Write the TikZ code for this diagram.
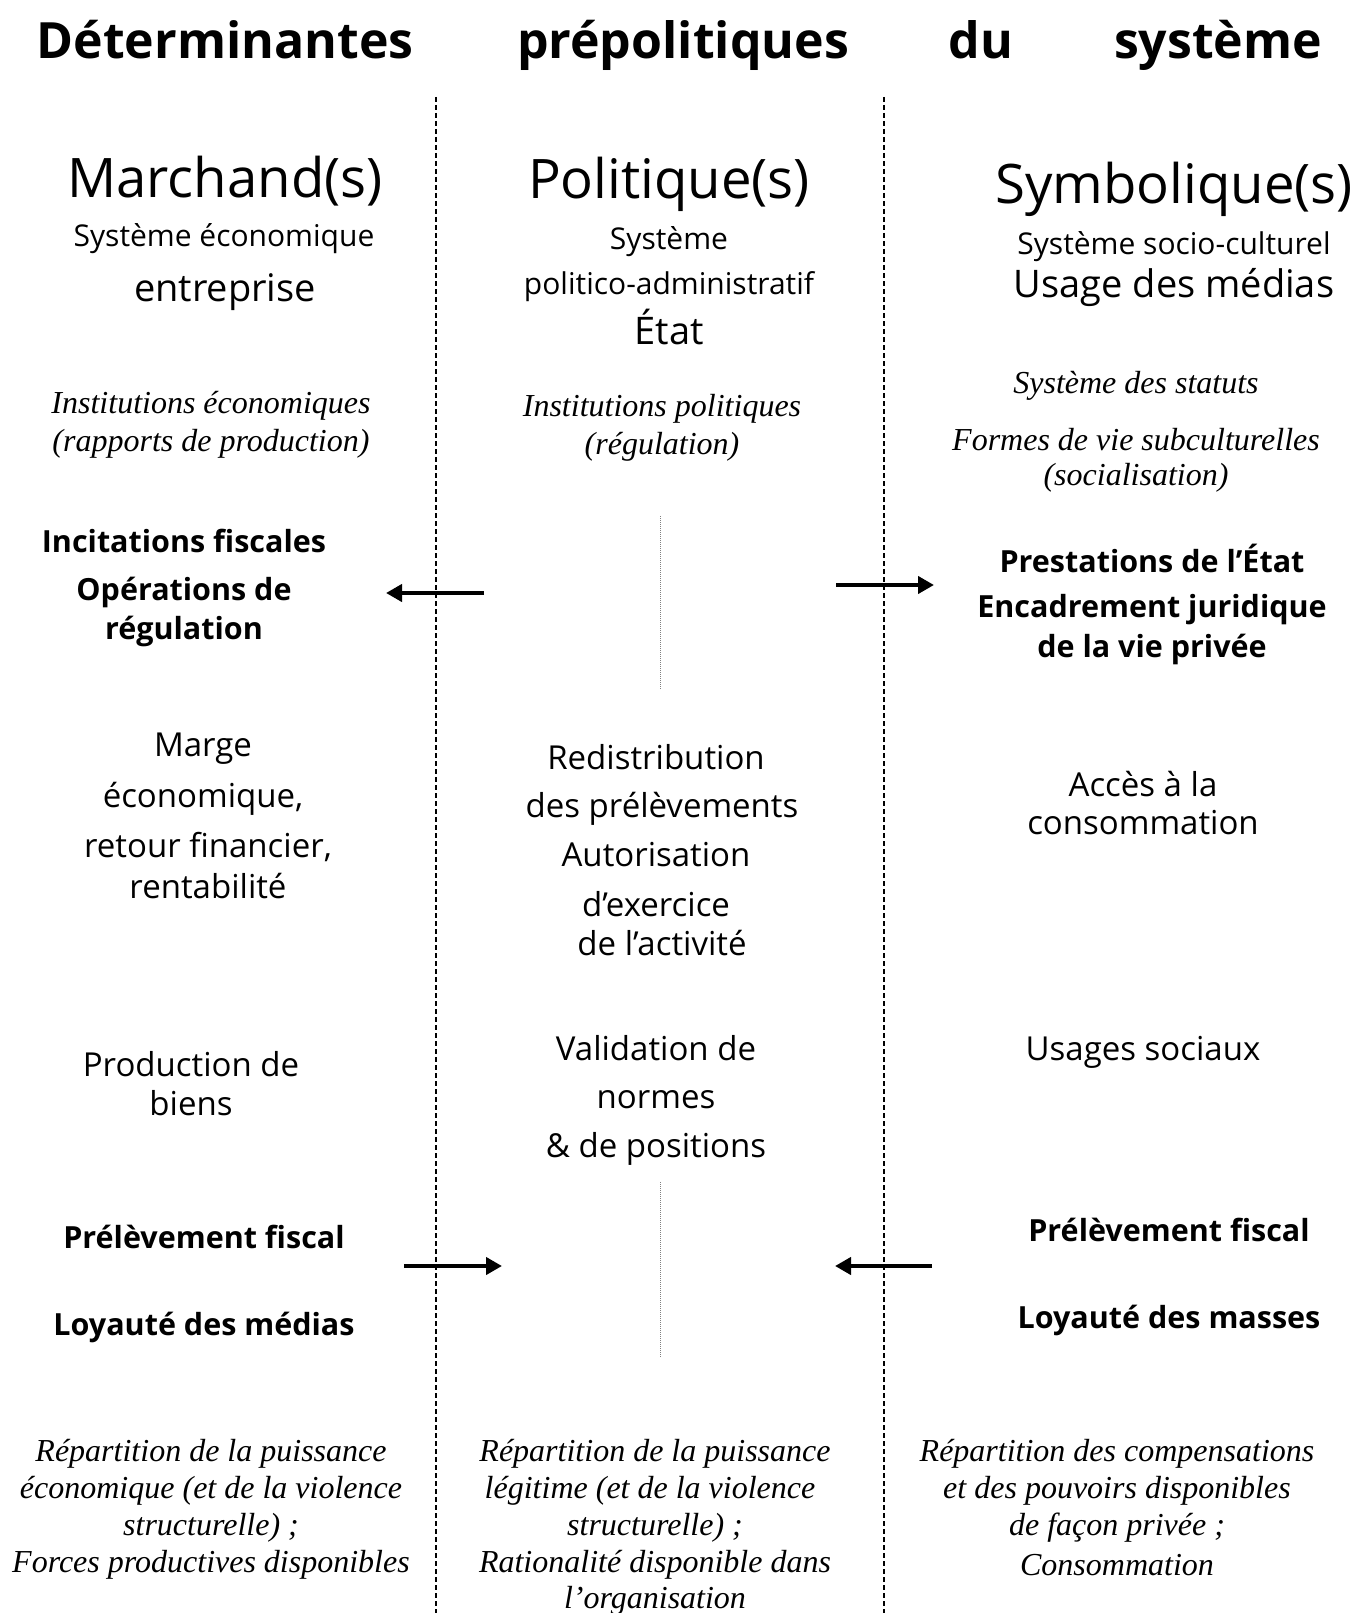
\documentclass[tikz,border=0pt]{standalone}
\usepackage{fontspec}
\setmainfont{Open Sans}
\newfontfamily\serit{Liberation Serif}
\usetikzlibrary{arrows.meta}
\begin{document}
\begin{tikzpicture}[x=1pt,y=-1pt,
  title/.style={font=\fontsize{50}{60}\selectfont\bfseries, anchor=base},
  head/.style={font=\fontsize{54.5}{62}\selectfont},
  sub/.style={font=\fontsize{30}{34}\selectfont},
  big/.style={font=\fontsize{38}{42}\selectfont},
  bld/.style={font=\fontsize{30.5}{36}\selectfont\bfseries},
  reg/.style={font=\fontsize{33}{38}\selectfont},
  ital/.style={font=\serit\itshape\fontsize{32}{36}\selectfont},
  sep/.style={line width=1.2pt, dash pattern=on 5pt off 3pt},
  mid/.style={line width=0.8pt, gray, dash pattern=on 1pt off 1pt},
  arr/.style={line width=4.6pt, -{Triangle[length=16pt,width=17pt]}},
  inner sep=0pt]
\useasboundingbox (0,0) rectangle (1358,1613);
\fill[white] (0,0) rectangle (1358,1613);
% title
\node[title] (t1) at (225,59) {Déterminantes};
\node[title] (t2) at (683,59) {prépolitiques};
\node[title] (t3) at (981,59) {du};
\node[title] (t4) at (1218,59) {système};
% separators
\coordinate (s1a) at (436,97); \coordinate (s1b) at (436,1613);
\coordinate (s2a) at (884,97); \coordinate (s2b) at (884,1613);
\draw[sep] (s1a) -- (s1b);
\draw[sep] (s2a) -- (s2b);
\coordinate (m1a) at (660,516); \coordinate (m1b) at (660,690);
\coordinate (m2a) at (660,1182); \coordinate (m2b) at (660,1358);
\draw[mid] (m1a) -- (m1b);
\draw[mid] (m2a) -- (m2b);
% arrows
\coordinate (a1s) at (484,593); \coordinate (a1e) at (386,593);
\coordinate (a2s) at (836,585); \coordinate (a2e) at (934,585);
\coordinate (a3s) at (404,1266); \coordinate (a3e) at (502,1266);
\coordinate (a4s) at (932,1266); \coordinate (a4e) at (835,1266);
\draw[arr] (a1s) -- (a1e);
\draw[arr] (a2s) -- (a2e);
\draw[arr] (a3s) -- (a3e);
\draw[arr] (a4s) -- (a4e);
% left column
\node[head] (L1) at (225,181) {Marchand(s)};
\node[sub] (L2) at (224,239) {Système économique};
\node[big] (L3) at (225,292) {entreprise};
\node[ital] (L4) at (211,406) {Institutions économiques};
\node[ital] (L5) at (211,444) {(rapports de production)};
\node[bld] (L6) at (184,541) {Incitations fiscales};
\node[bld] (L7) at (184,592) {Opérations de};
\node[bld] (L8) at (184,631) {régulation};
\node[reg] (L9) at (203,749) {Marge};
\node[reg] (L10) at (203,799) {économique,};
\node[reg] (L11) at (208,847) {retour financier,};
\node[reg] (L12) at (208,886) {rentabilité};
\node[reg] (L13) at (191,1064) {Production de};
\node[reg] (L14) at (191,1103) {biens};
\node[bld] (L15) at (204,1237) {Prélèvement fiscal};
\node[bld] (L16) at (204,1327) {Loyauté des médias};
\node[ital] (L17) at (211,1454) {Répartition de la puissance};
\node[ital] (L18) at (211,1491) {économique (et de la violence};
\node[ital] (L19) at (211,1528) {structurelle) ;};
\node[ital] (L20) at (211,1565) {Forces productives disponibles};
% middle column
\node[head] (M1) at (669,184) {Politique(s)};
\node[sub] (M2) at (669,242) {Système};
\node[sub] (M3) at (669,287) {politico-administratif};
\node[big] (M4) at (669,327) {État};
\node[ital] (M5) at (662,409) {Institutions politiques};
\node[ital] (M6) at (662,447) {(régulation)};
\node[reg] (M7) at (656,757) {Redistribution};
\node[reg] (M8) at (662,809) {des prélèvements};
\node[reg] (M9) at (656,855) {Autorisation};
\node[reg] (M10) at (656,904) {d’exercice};
\node[reg] (M11) at (662,943) {de l’activité};
\node[reg] (M12) at (656,1048) {Validation de};
\node[reg] (M13) at (656,1100) {normes};
\node[reg] (M14) at (656,1149) {\& de positions};
\node[ital] (M15) at (655,1454) {Répartition de la puissance};
\node[ital] (M16) at (650,1491) {légitime (et de la violence};
\node[ital] (M17) at (655,1528) {structurelle) ;};
\node[ital] (M18) at (655,1565) {Rationalité disponible dans};
\node[ital] (M19) at (655,1601) {l’organisation};
% right column
\node[head] (R1) at (1174,189) {Symbolique(s)};
\node[sub] (R2) at (1174,247) {Système socio-culturel};
\node[big] (R3) at (1174,288) {Usage des médias};
\node[ital] (R4) at (1136,386) {Système des statuts};
\node[ital] (R5) at (1136,440) {Formes de vie subculturelles};
\node[ital] (R6) at (1136,478) {(socialisation)};
\node[bld] (R7) at (1152,558) {Prestations de l’État};
\node[bld] (R8) at (1152,610) {Encadrement juridique};
\node[bld] (R9) at (1152,649) {de la vie privée};
\node[reg] (R10) at (1143,784) {Accès à la};
\node[reg] (R11) at (1143,823) {consommation};
\node[reg] (R12) at (1143,1052) {Usages sociaux};
\node[bld] (R13) at (1169,1230) {Prélèvement fiscal};
\node[bld] (R14) at (1169,1320) {Loyauté des masses};
\node[ital] (R15) at (1117,1454) {Répartition des compensations};
\node[ital] (R16) at (1117,1491) {et des pouvoirs disponibles};
\node[ital] (R17) at (1117,1528) {de façon privée ;};
\node[ital] (R18) at (1117,1565) {Consommation};
\end{tikzpicture}
\end{document}
